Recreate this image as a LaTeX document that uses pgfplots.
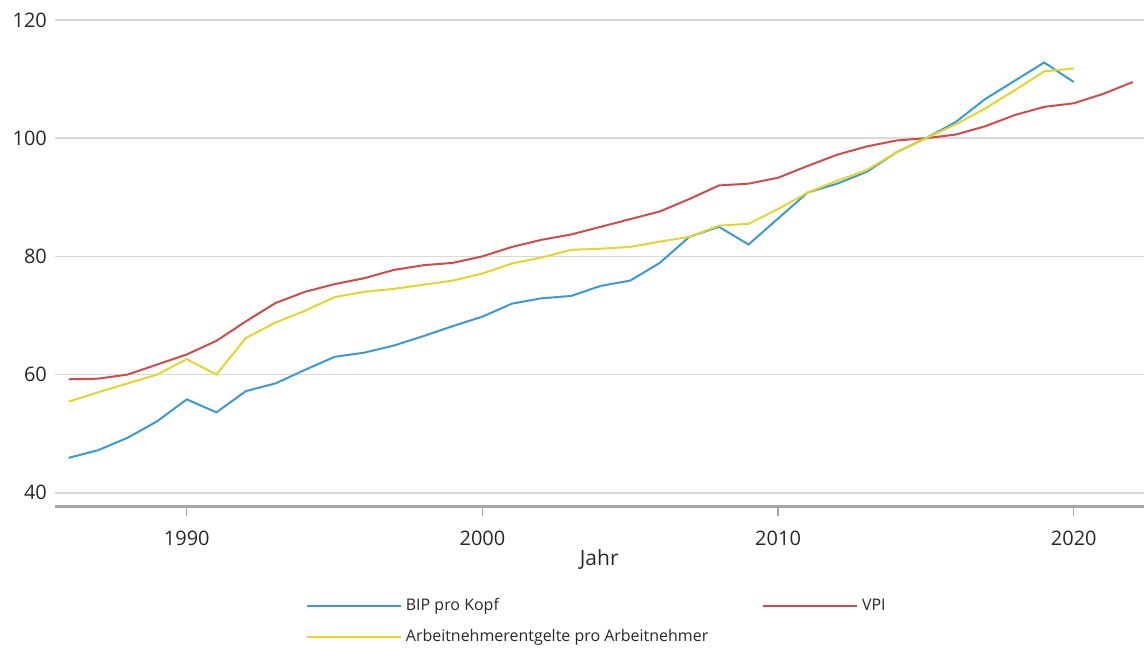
\documentclass[border=0pt]{standalone}
\usepackage{pgfplots}
\pgfplotsset{compat=1.18}
\usepackage{fontspec}
\setmainfont{Open Sans}
\definecolor{cblue}{RGB}{58,154,214}
\definecolor{cred}{RGB}{210,75,75}
\definecolor{cyel}{RGB}{230,212,42}
\definecolor{cgrid}{RGB}{217,217,217}
\definecolor{caxis}{RGB}{166,166,166}
\definecolor{ctext}{RGB}{40,40,40}
\begin{document}
\begin{tikzpicture}
\begin{axis}[
  name=ax,
  scale only axis,
  width=545pt, height=243.5pt,
  xmin=1985.54, xmax=2022.36,
  ymin=37.7, ymax=120,
  xtick={1990,2000,2010,2020},
  ytick={40,60,80,100,120},
  ymajorgrids, grid style={cgrid, line width=0.8pt},
  axis line style={draw=none},
  axis x line*=bottom, axis y line*=left,
  y axis line style={draw=none},
  x axis line style={draw=caxis, line width=1.5pt, line cap=butt},
  xtick style={draw=caxis, line width=0.6pt},
  tick align=outside, major tick length=5pt,
  ytick style={draw=none},
  xticklabel style={font=\fontsize{10}{12}\selectfont, text=ctext, yshift=-4pt},
  yticklabel style={font=\fontsize{10}{12}\selectfont, text=ctext, xshift=4.5pt},
  /pgf/number format/assume math mode=true,
  /pgf/number format/1000 sep={},
  xlabel={Jahr},
  xlabel style={font=\fontsize{10.5}{12}\selectfont, text=ctext, yshift=5pt},
  legend columns=2,
  legend cell align=left,
  legend style={draw=none, fill=none, at={(0.2248,-0.172)}, anchor=north west,
    font=\fontsize{8}{10}\selectfont, text=ctext,
    /tikz/every even column/.append style={column sep=25pt},
    row sep=4pt},
  legend image code/.code={\draw[#1] (0pt,0pt) -- (42pt,0pt); \path (0pt,0pt) -- (47pt,0pt);},
  every axis plot/.append style={line width=1pt},
]
\addplot[cblue] coordinates {
(1986,45.9)(1987,47.2)(1988,49.3)(1989,52.1)(1990,55.8)(1991,53.6)(1992,57.2)(1993,58.5)(1994,60.8)(1995,63.0)(1996,63.7)(1997,64.9)(1998,66.5)(1999,68.2)(2000,69.8)(2001,72.0)(2002,72.9)(2003,73.3)(2004,75.0)(2005,75.9)(2006,78.9)(2007,83.3)(2008,85.0)(2009,82.0)(2010,86.4)(2011,90.8)(2012,92.3)(2013,94.3)(2014,97.6)(2015,100.0)(2016,102.7)(2017,106.6)(2018,109.7)(2019,112.8)(2020,109.5)};
\addlegendentry{BIP pro Kopf}
\addplot[cred] coordinates {
(1986,59.2)(1987,59.3)(1988,60.0)(1989,61.7)(1990,63.4)(1991,65.7)(1992,69.0)(1993,72.1)(1994,74.0)(1995,75.3)(1996,76.3)(1997,77.7)(1998,78.5)(1999,78.9)(2000,80.0)(2001,81.6)(2002,82.8)(2003,83.7)(2004,85.0)(2005,86.3)(2006,87.6)(2007,89.7)(2008,92.0)(2009,92.3)(2010,93.3)(2011,95.3)(2012,97.2)(2013,98.6)(2014,99.6)(2015,100.0)(2016,100.6)(2017,102.0)(2018,103.9)(2019,105.3)(2020,105.9)(2021,107.5)(2022,109.5)};
\addlegendentry{VPI}
\addplot[cyel] coordinates {
(1986,55.4)(1987,57.0)(1988,58.5)(1989,60.0)(1990,62.6)(1991,60.0)(1992,66.2)(1993,68.8)(1994,70.8)(1995,73.1)(1996,74.0)(1997,74.5)(1998,75.2)(1999,75.9)(2000,77.1)(2001,78.8)(2002,79.8)(2003,81.1)(2004,81.3)(2005,81.6)(2006,82.5)(2007,83.3)(2008,85.2)(2009,85.5)(2010,88.0)(2011,90.8)(2012,92.8)(2013,94.6)(2014,97.6)(2015,100.0)(2016,102.3)(2017,105.0)(2018,108.1)(2019,111.3)(2020,111.8)};
\addlegendentry{Arbeitnehmerentgelte pro Arbeitnehmer}
\end{axis}
\path (ax.south west) ++(-27.5pt,-69.5pt) rectangle (ax.north east) ++(0pt,10pt);
\end{tikzpicture}
\end{document}
